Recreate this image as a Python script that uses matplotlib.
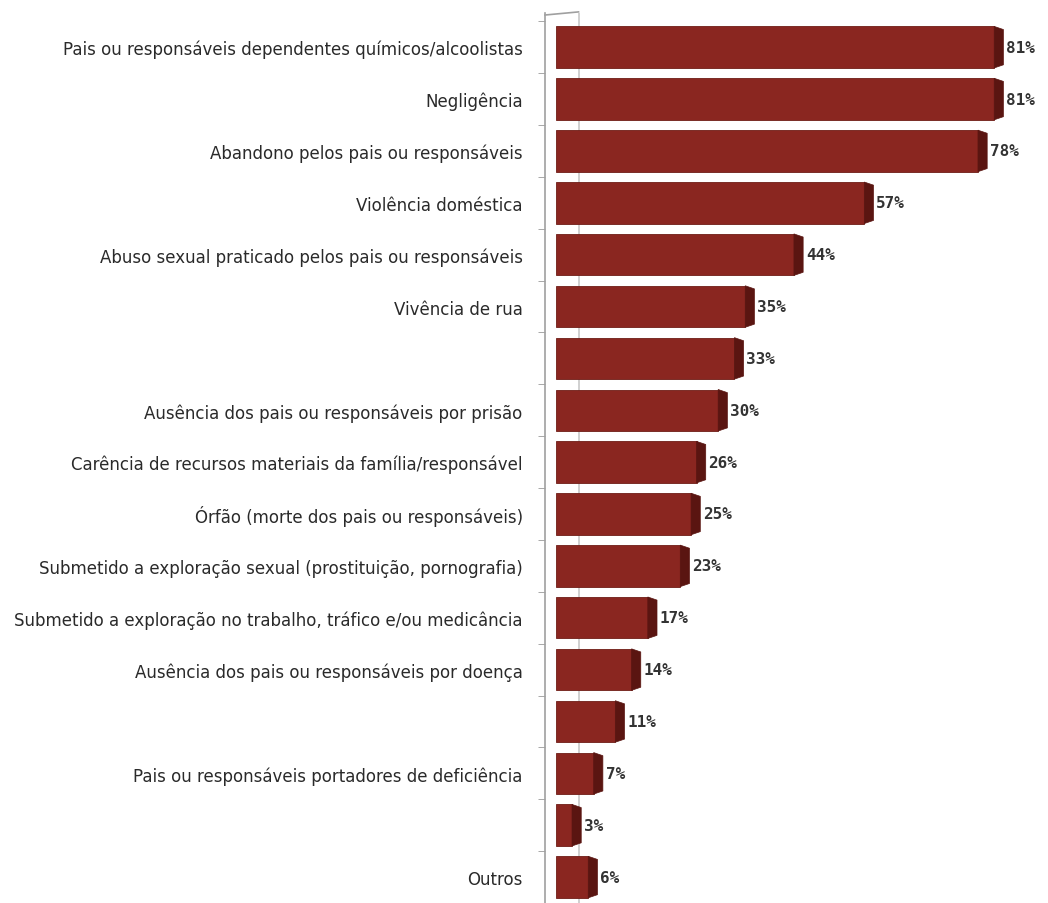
import matplotlib
matplotlib.use('Agg')
import matplotlib.pyplot as plt
from matplotlib.patches import Polygon

categories = [
    'Pais ou responsáveis dependentes químicos/alcoolistas',
    'Negligência',
    'Abandono pelos pais ou responsáveis',
    'Violência doméstica',
    'Abuso sexual praticado pelos pais ou responsáveis',
    'Vivência de rua',
    '',
    'Ausência dos pais ou responsáveis por prisão',
    'Carência de recursos materiais da família/responsável',
    'Órfão (morte dos pais ou responsáveis)',
    'Submetido a exploração sexual (prostituição, pornografia)',
    'Submetido a exploração no trabalho, tráfico e/ou medicância',
    'Ausência dos pais ou responsáveis por doença',
    '',
    'Pais ou responsáveis portadores de deficiência',
    '',
    'Outros',
]
values = [81, 81, 78, 57, 44, 35, 33, 30, 26, 25, 23, 17, 14, 11, 7, 3, 6]

front = '#8a2620'
side = '#5a1511'

fig = plt.figure(figsize=(10.48, 9.04), dpi=100)
ax = fig.add_axes([0.52, 0.0, 0.47, 0.984])

n = len(values)
ypos = list(range(n))
h = 0.8
dx, dy = 1.7, 0.06

# back wall line
ax.axvline(4.2, color='#c8c8c8', lw=1.2, zorder=0)
ax.plot([-2, 4.2], [-0.62, -0.68], color='#a0a0a0', lw=1.2, clip_on=False, zorder=0)

ax.barh(ypos, values, height=h, color=front, edgecolor='#6e1c16', lw=0.6, zorder=2)
for y, v in zip(ypos, values):
    # right side face
    ax.add_patch(Polygon([(v, y - h / 2), (v + dx, y - h / 2 + dy),
                          (v + dx, y + h / 2 - dy), (v, y + h / 2)],
                         closed=True, fc=side, ec=side, lw=0.5, zorder=3))
    ax.text(v + dx + 0.5, y, '%d%%' % v, va='center', ha='left',
            family='DejaVu Sans Mono', fontweight='bold', fontsize=11.5,
            color='#333333', zorder=4)

ax.set_xlim(-2, 89)
ax.set_ylim(n - 0.5, -0.65)
ax.set_yticks(ypos)
ax.set_yticklabels(categories, family='DejaVu Sans', fontsize=12, color='#2a2a2a')
ax.set_yticks([i + 0.5 for i in range(-1, n - 1)], minor=True)
ax.tick_params(axis='y', which='major', length=0, pad=16)
ax.tick_params(axis='y', which='minor', length=5, color='#9a9a9a', direction='out')
ax.set_xticks([])
for s in ['top', 'right', 'bottom']:
    ax.spines[s].set_visible(False)
ax.spines['left'].set_color('#a0a0a0')
ax.spines['left'].set_linewidth(1.2)

fig.savefig('out.png', dpi=100, facecolor='white')
